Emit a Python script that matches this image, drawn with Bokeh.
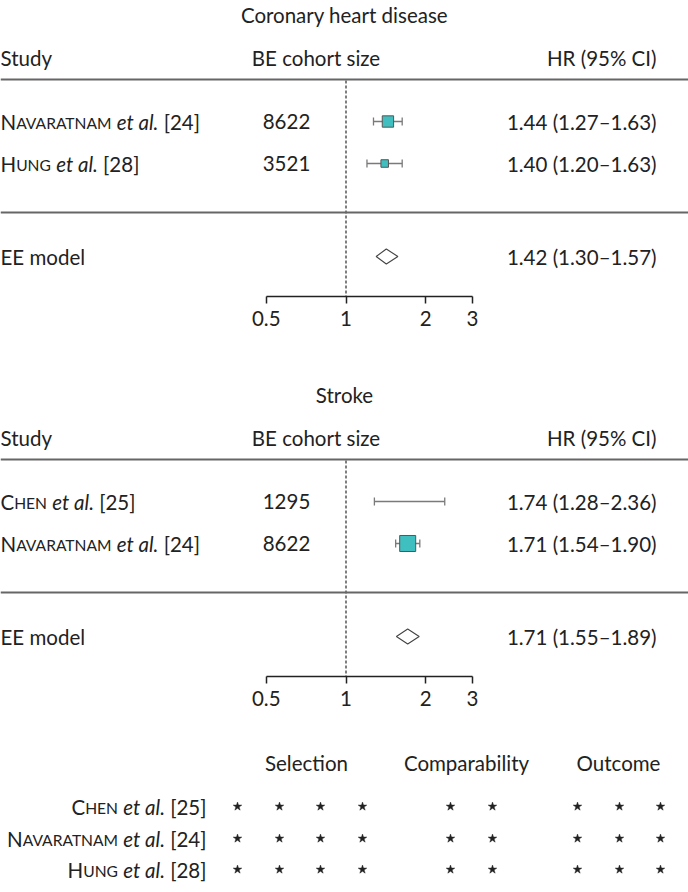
import glob
import math
import os
import subprocess

from bokeh.core.properties import value
from bokeh.embed import file_html
from bokeh.layouts import column
from bokeh.models import (FixedTicker, LogAxis, LogScale, NumeralTickFormatter,
                          Range1d, Span)
from bokeh.plotting import figure
from bokeh.resources import INLINE

# ---------------------------------------------------------------- data
chd_title = "Coronary heart disease"
chd_authors = ["Navaratnam", "Hung"]
chd_refs = [24, 28]
chd_cohort = [8622, 3521]
chd_hr = [1.44, 1.40]
chd_lower = [1.27, 1.20]
chd_upper = [1.63, 1.63]
chd_pooled = [1.42]
chd_pooled_lower = [1.30]
chd_pooled_upper = [1.57]

stroke_title = "Stroke"
stroke_authors = ["Chen", "Navaratnam"]
stroke_refs = [25, 24]
stroke_cohort = [1295, 8622]
stroke_hr = [1.74, 1.71]
stroke_lower = [1.28, 1.54]
stroke_upper = [2.36, 1.90]
stroke_pooled = [1.71]
stroke_pooled_lower = [1.55]
stroke_pooled_upper = [1.89]

header_labels = ["Study", "BE cohort size", "HR (95% CI)"]
model_label = "EE model"
hr_ticks = [0.5, 1, 2, 3]

nos_authors = ["Chen", "Navaratnam", "Hung"]
nos_refs = [25, 24, 28]
nos_domains = ["Selection", "Comparability", "Outcome"]
nos_selection = [4, 4, 4]
nos_comparability = [2, 2, 2]
nos_outcome = [3, 3, 3]

# ---------------------------------------------------------------- style / layout
FONT = "Lato"
TXT = "#222222"
BOX_FILL = "#3fbfc0"
BOX_LINE = "#555555"
CI_LINE = "#7a7a7a"
RULE = "#666666"

W = 688
X0, X1 = 0, 688          # page x covered by the figures
X_NULL = 345.5           # page x of HR = 1
PX_PER_LN = 115.0
HR_START = math.exp((X0 - X_NULL) / PX_PER_LN)
HR_END = math.exp((X1 - X_NULL) / PX_PER_LN)


def find_font(names, query):
    roots = ["/usr/share/fonts", "/usr/local/share/fonts",
             os.path.expanduser("~/.fonts"), os.path.expanduser("~/.local/share/fonts")]
    for r in roots:
        for n in names:
            hits = glob.glob(os.path.join(r, "**", n), recursive=True)
            if hits:
                return hits[0]
    try:
        out = subprocess.run(["fc-match", "-f", "%{file}", query],
                             capture_output=True, text=True, timeout=5).stdout.strip()
        if out and "lato" in out.lower():
            return out
    except Exception:
        pass
    return None


FONT_FILES = {
    "normal": find_font(["Lato-Regular.ttf"], "Lato:style=Regular"),
    "italic": find_font(["Lato-Italic.ttf"], "Lato:style=Italic"),
}
try:
    from PIL import ImageFont
except Exception:
    ImageFont = None
_fonts = {}


def text_width(s, size, style="normal"):
    path = FONT_FILES.get(style)
    if ImageFont is not None and path:
        try:
            f = _fonts.get(style)
            if f is None:
                f = ImageFont.truetype(path, 200)
                _fonts[style] = f
            return f.getlength(s) * size / 200.0
        except Exception:
            pass
    return 0.5 * size * len(s)


# calibrate font size to the widths seen in the reference
_targets = [("Coronary heart disease", 214), ("BE cohort size", 129), ("HR (95% CI)", 99)]
_fs = sum(t for _, t in _targets) / sum(text_width(s, 1.0) for s, _ in _targets)
FS = round(min(max(_fs, 18.0), 23.0) * 2) / 2
SC = 0.76 * FS           # small-caps size
MID = 0.387              # middle of Lato's line box above the baseline (em)


def put(p, x, y, text, size=None, style="normal", align="left"):
    size = FS if size is None else size
    yy = y + MID * (FS - size)      # keep a shared baseline for mixed sizes
    p.text(x=[x], y=[yy], text=[text], text_font=value(FONT),
           text_font_size=f"{size:.1f}px", text_font_style=style,
           text_align=align, text_baseline="middle", text_color=TXT)


def name_pieces(author, ref):
    # (text, size, style, space before)
    return [(author[0].upper(), FS, "normal", False),
            (author[1:].upper(), SC, "normal", False),
            ("et al.", FS, "italic", True),
            (f"[{ref}]", FS, "normal", True)]


def put_name(p, author, ref, x, y, align="left"):
    pieces = name_pieces(author, ref)
    space = text_width(" ", FS)
    widths = [text_width(t, s, st) + (space if sp else 0) for t, s, st, sp in pieces]
    cx = x if align == "left" else x - sum(widths)
    for (t, s, st, sp), w in zip(pieces, widths):
        put(p, cx + (space if sp else 0), y, t, size=s, style=st)
        cx += w


def base_fig(height, y_top, y_bottom, border_bottom=0):
    p = figure(width=W, height=height, x_range=Range1d(X0, X1),
               y_range=Range1d(y_bottom, y_top),
               x_axis_location=None, y_axis_location=None,
               toolbar_location=None, output_backend="svg",
               min_border_left=0, min_border_right=0, min_border_top=0,
               min_border_bottom=border_bottom,
               outline_line_color=None, background_fill_color="white",
               border_fill_color="white")
    p.xgrid.visible = False
    p.ygrid.visible = False
    return p


def forest_panel(title, authors, refs, cohort, hr, lower, upper,
                 pooled, pooled_lo, pooled_hi, origin, canvas_top, border):
    axis_y = origin + 296
    p = base_fig(int(axis_y - canvas_top + border), canvas_top, axis_y, border)
    p.extra_x_ranges = {"hr": Range1d(HR_START, HR_END)}
    p.extra_x_scales = {"hr": LogScale()}

    put(p, 344, origin + 14, title, align="center")
    hy = origin + 57
    put(p, X0, hy, header_labels[0])
    put(p, 315.5, hy, header_labels[1], align="center")
    put(p, 656, hy, header_labels[2], align="right")

    p.add_layout(Span(location=origin + 79, dimension="width",
                      line_color=RULE, line_width=2))
    p.add_layout(Span(location=origin + 212, dimension="width",
                      line_color=RULE, line_width=2))

    # null line
    p.segment(x0=[1], x1=[1], y0=[origin + 80], y1=[axis_y], x_range_name="hr",
              line_color="#555555", line_width=1.5, line_dash="3 2")

    rows = [origin + 121 + 42 * i for i in range(len(authors))]
    se = [(math.log(u) - math.log(l)) / (2 * 1.96) for l, u in zip(lower, upper)]
    wts = [1.0 / s ** 2 for s in se]
    sizes = [16.0 * w / 348.0 for w in wts]

    for i, y in enumerate(rows):
        put_name(p, authors[i], refs[i], X0, y)
        put(p, 286, y, str(cohort[i]), align="center")
        put(p, 656, y, f"{hr[i]:.2f} ({lower[i]:.2f}\u2013{upper[i]:.2f})", align="right")

    p.segment(x0=lower, x1=upper, y0=rows, y1=rows, x_range_name="hr",
              line_color=CI_LINE, line_width=1.3)
    p.segment(x0=lower, x1=lower, y0=[y - 4 for y in rows], y1=[y + 4 for y in rows],
              x_range_name="hr", line_color=CI_LINE, line_width=1.3)
    p.segment(x0=upper, x1=upper, y0=[y - 4 for y in rows], y1=[y + 4 for y in rows],
              x_range_name="hr", line_color=CI_LINE, line_width=1.3)
    # boxes too small to show beyond the CI line are not drawn
    keep = [i for i, s in enumerate(sizes) if s >= 3]
    p.scatter(x=[hr[i] for i in keep], y=[rows[i] for i in keep],
              size=[sizes[i] for i in keep], marker="square", x_range_name="hr",
              fill_color=BOX_FILL, line_color=BOX_LINE, line_width=1)

    ey = origin + 256
    put(p, X0, ey, model_label)
    put(p, 656, ey,
        f"{pooled[0]:.2f} ({pooled_lo[0]:.2f}\u2013{pooled_hi[0]:.2f})", align="right")
    p.patches(xs=[[pooled_lo[0], pooled[0], pooled_hi[0], pooled[0]]],
              ys=[[ey, ey - 7.5, ey, ey + 7.5]], x_range_name="hr",
              fill_color="white", line_color="#444444", line_width=1.1)

    ax = LogAxis(x_range_name="hr",
                 ticker=FixedTicker(ticks=hr_ticks, minor_ticks=[]),
                 formatter=NumeralTickFormatter(format="0.[0]"),
                 bounds=(min(hr_ticks), max(hr_ticks)))
    ax.axis_line_color = "#222222"
    ax.axis_line_width = 1.5
    ax.major_tick_line_color = "#222222"
    ax.major_tick_line_width = 1.5
    ax.major_tick_out = 7
    ax.major_tick_in = 0
    ax.minor_tick_line_color = None
    ax.major_label_text_font = FONT
    ax.major_label_text_font_size = f"{FS:.1f}px"
    ax.major_label_text_color = TXT
    ax.major_label_standoff = 7
    p.add_layout(ax, "below")
    return p


p1 = forest_panel(chd_title, chd_authors, chd_refs, chd_cohort, chd_hr, chd_lower,
                  chd_upper, chd_pooled, chd_pooled_lower, chd_pooled_upper,
                  origin=0, canvas_top=0, border=74)
p2 = forest_panel(stroke_title, stroke_authors, stroke_refs, stroke_cohort, stroke_hr,
                  stroke_lower, stroke_upper, stroke_pooled, stroke_pooled_lower,
                  stroke_pooled_upper, origin=380, canvas_top=370, border=54)

# ---------------------------------------------------------------- quality table
p3 = base_fig(162, 730, 892)
domain_centres = [306, 466, 618]
domain_slots = [[237, 279, 320, 362], [450, 492], [577, 619, 660]]
for d, cx in zip(nos_domains, domain_centres):
    put(p3, cx, 762, d, align="center")

row_y = [806, 838, 869]
counts = [nos_selection, nos_comparability, nos_outcome]
sx, sy = [], []
for i, a in enumerate(nos_authors):
    put_name(p3, a, nos_refs[i], 206, row_y[i], align="right")
    for slots, cnt in zip(domain_slots, counts):
        for j in range(cnt[i]):
            sx.append(slots[j])
            sy.append(row_y[i])
p3.scatter(x=sx, y=sy, marker="star", size=9, fill_color=TXT, line_color=TXT,
           line_width=0.5)

layout = column(p1, p2, p3, spacing=0)
open("out.html", "w").write(file_html(layout, INLINE))
